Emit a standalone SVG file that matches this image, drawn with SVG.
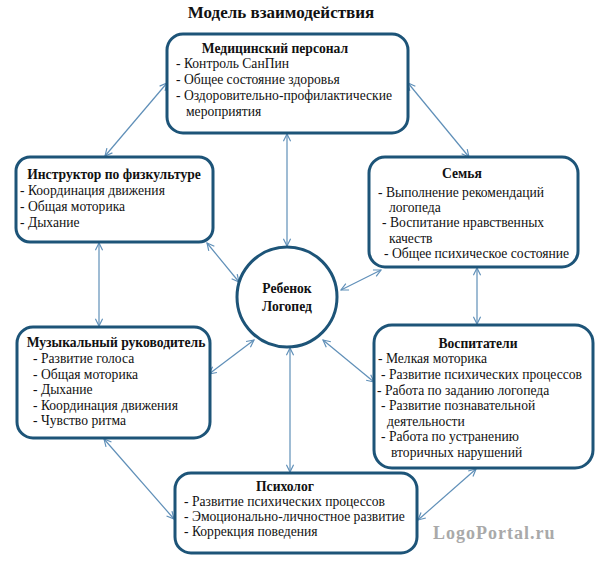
<svg xmlns="http://www.w3.org/2000/svg" width="600" height="566" viewBox="0 0 600 566">
<style>
.box{fill:#fff;stroke:#1d5478;stroke-width:3}
.t{font-family:"Liberation Serif","Times New Roman",serif;font-size:13.6px;fill:#111}
.b{font-weight:bold}
.c{stroke:#5f8fb8;stroke-width:1.2;fill:none;marker-start:url(#ah);marker-end:url(#ah)}
</style>
<defs>
<marker id="ah" viewBox="0 0 10 10" refX="9" refY="5" markerWidth="9" markerHeight="9" markerUnits="userSpaceOnUse" orient="auto-start-reverse">
<path d="M1,1 L9,5 L1,9" fill="none" stroke="#5f8fb8" stroke-width="1.3"/>
</marker>
</defs>
<rect width="600" height="566" fill="#fff"/>
<text x="281" y="18" text-anchor="middle" class="t b" style="font-size:17px">Модель взаимодействия</text>
<g id="connectors">
<line class="c" x1="167" y1="83" x2="105" y2="156"/>
<line class="c" x1="408" y1="83" x2="469" y2="157"/>
<line class="c" x1="287" y1="134" x2="287" y2="246"/>
<line class="c" x1="99" y1="243" x2="99" y2="326"/>
<line class="c" x1="207" y1="243" x2="239" y2="282"/>
<line class="c" x1="477" y1="268" x2="477" y2="324"/>
<line class="c" x1="381" y1="270" x2="341" y2="290"/>
<line class="c" x1="209" y1="374" x2="254" y2="340"/>
<line class="c" x1="374" y1="382" x2="323" y2="340"/>
<line class="c" x1="290" y1="348" x2="290" y2="472"/>
<line class="c" x1="104" y1="439" x2="174" y2="519"/>
<line class="c" x1="476" y1="469" x2="418" y2="520"/>
</g>
<g id="med">
<rect class="box" x="167" y="34" width="241" height="99" rx="16"/>
<text x="275" y="53" text-anchor="middle" class="t b">Медицинский персонал</text>
<text x="176" y="68" class="t">- Контроль СанПин</text>
<text x="176" y="84" class="t">- Общее состояние здоровья</text>
<text x="176" y="100" class="t">- Оздоровительно-профилактические</text>
<text x="186" y="116" class="t">мероприятия</text>
</g>
<g id="fiz">
<rect class="box" x="16" y="157" width="197" height="85" rx="14"/>
<text x="114" y="179" text-anchor="middle" class="t b">Инструктор по физкультуре</text>
<text x="20" y="195" class="t">- Координация движения</text>
<text x="20" y="211" class="t">- Общая моторика</text>
<text x="20" y="227" class="t">- Дыхание</text>
</g>
<g id="semya">
<rect class="box" x="369" y="157" width="209" height="110" rx="16"/>
<text x="462" y="178" text-anchor="middle" class="t b">Семья</text>
<text x="378" y="197" class="t">- Выполнение рекомендаций</text>
<text x="389" y="212" class="t">логопеда</text>
<text x="382" y="227" class="t">- Воспитание нравственных</text>
<text x="389" y="243" class="t">качеств</text>
<text x="384" y="258" class="t">- Общее психическое состояние</text>
</g>
<g id="child">
<circle cx="287" cy="297" r="50" fill="#fff" stroke="#1d5478" stroke-width="3"/>
<text x="287" y="293" text-anchor="middle" class="t b">Ребенок</text>
<text x="287" y="311" text-anchor="middle" class="t b">Логопед</text>
</g>
<g id="music">
<rect class="box" x="17" y="327" width="193" height="111" rx="16"/>
<text x="116" y="347" text-anchor="middle" class="t b">Музыкальный руководитель</text>
<text x="33" y="363" class="t">- Развитие голоса</text>
<text x="33" y="379" class="t">- Общая моторика</text>
<text x="33" y="394" class="t">- Дыхание</text>
<text x="33" y="410" class="t">- Координация движения</text>
<text x="33" y="425" class="t">- Чувство ритма</text>
</g>
<g id="vospit">
<rect class="box" x="374" y="325" width="219" height="143" rx="18"/>
<text x="478" y="348" text-anchor="middle" class="t b">Воспитатели</text>
<text x="378" y="363" class="t">- Мелкая моторика</text>
<text x="381" y="379" class="t">- Развитие психических процессов</text>
<text x="377" y="395" class="t">- Работа по заданию логопеда</text>
<text x="381" y="410" class="t">- Развитие познавательной</text>
<text x="387" y="426" class="t">деятельности</text>
<text x="381" y="441" class="t">- Работа по устранению</text>
<text x="391" y="457" class="t">вторичных нарушений</text>
</g>
<g id="psych">
<rect class="box" x="175" y="473" width="242" height="80" rx="16"/>
<text x="285" y="491" text-anchor="middle" class="t b">Психолог</text>
<text x="184" y="506" class="t">- Развитие психических процессов</text>
<text x="184" y="521" class="t">- Эмоционально-личностное развитие</text>
<text x="184" y="536" class="t">- Коррекция поведения</text>
</g>
<text x="433" y="539" class="t b" style="font-size:18px;fill:#a9a9a9;letter-spacing:1px">LogoPortal.ru</text>
</svg>
